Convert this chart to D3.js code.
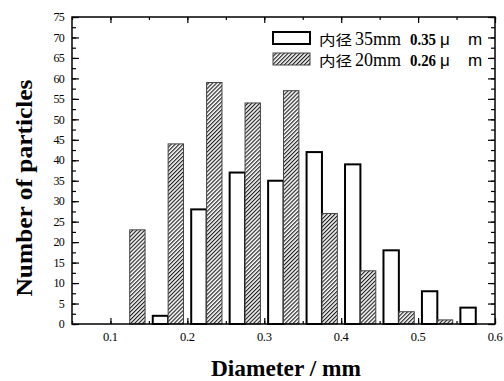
<!DOCTYPE html>
<html>
<head>
<meta charset="utf-8">
<script src="https://cdn.jsdelivr.net/npm/d3@7"></script>
<style>
  body { margin: 0; background: #fff; }
  text { font-family: "Liberation Serif", "Times New Roman", serif; fill: #000; }
</style>
</head>
<body>
<div class="histogram"></div>
<script>
// bin centres (mm) and counts
const binCenters = [0.125, 0.175, 0.225, 0.275, 0.325, 0.375, 0.425, 0.475, 0.525, 0.575];
const counts35 = [0, 2, 28, 37, 35, 42, 39, 18, 8, 4];
const counts20 = [23, 44, 59, 54, 57, 27, 13, 3, 1, 0];
const xTicks = [0.1, 0.2, 0.3, 0.4, 0.5, 0.6];
const yTicks = [0, 5, 10, 15, 20, 25, 30, 35, 40, 45, 50, 55, 60, 65, 70, 75];
const legendRows = [
    {cn: "内径", num: "35mm", size: "0.35", hatch: false},
    {cn: "内径", num: "20mm", size: "0.26", hatch: true}
];

const W = 504, H = 381;
const margin = {top: 17, right: 9, bottom: 57, left: 72};
const width = W - margin.left - margin.right;
const height = H - margin.top - margin.bottom;
const barW = 0.02;

let svg = d3.select('.histogram')
    .append('svg')
    .attr('width', W)
    .attr('height', H);

let defs = svg.append("defs");
let pat = defs.append("pattern")
    .attr("id", "hatch")
    .attr("patternUnits", "userSpaceOnUse")
    .attr("width", 2.8)
    .attr("height", 2.8)
    .attr("patternTransform", "rotate(45)");
pat.append("rect").attr("width", 2.8).attr("height", 2.8).attr("fill", "#fff");
pat.append("line")
    .attr("x1", 0.6).attr("y1", 0).attr("x2", 0.6).attr("y2", 2.8)
    .attr("stroke", "#111").attr("stroke-width", 1.1);

let g = svg.append("g")
    .attr("transform", "translate(" + margin.left + "," + margin.top + ")");

let xScale = d3.scaleLinear().domain([0.05, 0.6]).range([0, width]);
let yScale = d3.scaleLinear().domain([0, 75]).range([height, 0]);

// white bars (35mm), left of each bin centre
g.selectAll(".bar35")
    .data(binCenters.map((c, i) => ({c: c, v: counts35[i]})).filter(d => d.v > 0))
    .enter()
    .append("rect")
    .attr("class", "bar35")
    .attr("x", d => xScale(d.c - barW))
    .attr("width", d => xScale(d.c) - xScale(d.c - barW))
    .attr("y", d => yScale(d.v))
    .attr("height", d => yScale(0) - yScale(d.v))
    .attr("fill", "#fff")
    .attr("stroke", "#000")
    .attr("stroke-width", 2);

// hatched bars (20mm), right of each bin centre
g.selectAll(".bar20")
    .data(binCenters.map((c, i) => ({c: c, v: counts20[i]})).filter(d => d.v > 0))
    .enter()
    .append("rect")
    .attr("class", "bar20")
    .attr("x", d => xScale(d.c))
    .attr("width", d => xScale(d.c + barW) - xScale(d.c))
    .attr("y", d => yScale(d.v))
    .attr("height", d => yScale(0) - yScale(d.v))
    .attr("fill", "url(#hatch)")
    .attr("stroke", "#444")
    .attr("stroke-width", 1);

// axes with inward ticks on all sides
const xMinor = d3.range(0.05, 0.6001, 0.05).map(v => +v.toFixed(3));
const yMinor = d3.range(0, 75.001, 2.5);

function inward(axis, scale, ticks, size) {
    return axis(scale).tickValues(ticks).tickSize(size).tickFormat("");
}

g.append("g").attr("transform", "translate(0," + height + ")")
    .call(inward(d3.axisTop, xScale, xMinor, 3));
g.append("g").attr("transform", "translate(0," + height + ")")
    .call(inward(d3.axisTop, xScale, xTicks, 6));
g.append("g")
    .call(inward(d3.axisBottom, xScale, xMinor, 3));
g.append("g")
    .call(inward(d3.axisBottom, xScale, xTicks, 6));
g.append("g")
    .call(inward(d3.axisRight, yScale, yMinor, 4));
g.append("g")
    .call(inward(d3.axisRight, yScale, yTicks, 7));
g.append("g").attr("transform", "translate(" + width + ",0)")
    .call(inward(d3.axisLeft, yScale, yMinor, 4));
g.append("g").attr("transform", "translate(" + width + ",0)")
    .call(inward(d3.axisLeft, yScale, yTicks, 7));

g.selectAll(".domain").remove();
g.selectAll(".tick line").attr("stroke", "#000").attr("stroke-width", 1.2);

// tick labels
g.selectAll(".xlab")
    .data(xTicks)
    .enter()
    .append("text")
    .attr("class", "xlab")
    .attr("x", d => xScale(d))
    .attr("y", height + 17)
    .attr("text-anchor", "middle")
    .attr("font-size", 12.5)
    .attr("letter-spacing", -0.3)
    .text(d => d3.format(".1f")(d));

g.selectAll(".ylab")
    .data(yTicks)
    .enter()
    .append("text")
    .attr("class", "ylab")
    .attr("x", -8)
    .attr("y", d => yScale(d))
    .attr("dy", "0.35em")
    .attr("text-anchor", "end")
    .attr("font-size", 12)
    .attr("letter-spacing", -0.7)
    .text(d => d);

// frame
g.append("rect")
    .attr("width", width)
    .attr("height", height)
    .attr("fill", "none")
    .attr("stroke", "#000")
    .attr("stroke-width", 1.5);

// axis titles
svg.append("text")
    .attr("x", 286)
    .attr("y", 376)
    .attr("text-anchor", "middle")
    .attr("font-size", 24)
    .attr("font-weight", "bold")
    .attr("textLength", 150)
    .attr("lengthAdjust", "spacingAndGlyphs")
    .text("Diameter / mm");

svg.append("text")
    .attr("transform", "translate(32,188) rotate(-90)")
    .attr("text-anchor", "middle")
    .attr("font-size", 24)
    .attr("font-weight", "bold")
    .attr("textLength", 217)
    .attr("lengthAdjust", "spacingAndGlyphs")
    .text("Number of particles");

// legend
let legend = svg.append("g");
legendRows.forEach(function(r, i) {
    let y0 = 32 + i * 21;
    let base = 45 + i * 20.5;
    legend.append("rect")
        .attr("x", 273)
        .attr("y", y0)
        .attr("width", 37)
        .attr("height", 12)
        .attr("fill", r.hatch ? "url(#hatch)" : "#fff")
        .attr("stroke", r.hatch ? "#444" : "#000")
        .attr("stroke-width", r.hatch ? 1 : 2);
    legend.append("text")
        .attr("x", 319)
        .attr("y", base)
        .attr("font-size", 14)
        .attr("textLength", 33)
        .attr("lengthAdjust", "spacingAndGlyphs")
        .style("font-family", "'Noto Sans CJK SC', sans-serif")
        .text(r.cn);
    legend.append("text")
        .attr("x", 355)
        .attr("y", base)
        .attr("font-size", 18)
        .attr("textLength", 46)
        .text(r.num);
    legend.append("text")
        .attr("x", 410)
        .attr("y", base)
        .attr("font-size", 17)
        .attr("font-weight", "bold")
        .attr("textLength", 26)
        .attr("lengthAdjust", "spacingAndGlyphs")
        .text(r.size);
    legend.append("text")
        .attr("x", 440)
        .attr("y", base)
        .attr("font-size", 17)
        .style("font-family", "'Liberation Sans', Arial, sans-serif")
        .text("μ");
    legend.append("text")
        .attr("x", 468)
        .attr("y", base)
        .attr("font-size", 17)
        .style("font-family", "'Liberation Sans', Arial, sans-serif")
        .text("m");
});
</script>
</body>
</html>
